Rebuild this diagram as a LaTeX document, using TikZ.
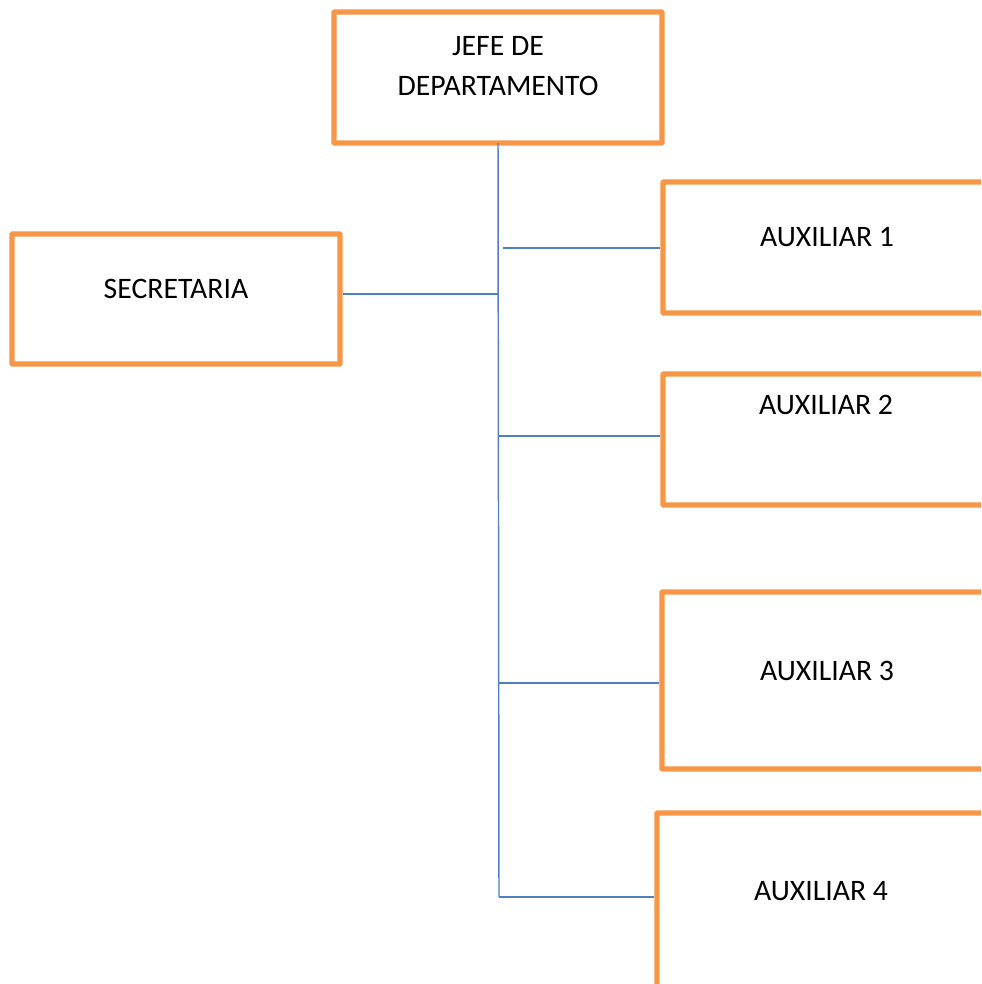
\documentclass[tikz,border=0pt]{standalone}
\usepackage{fontspec}
\setmainfont{Carlito}
\usepackage{tikz}
\usetikzlibrary{calc,fit}
\definecolor{boxorange}{HTML}{F79646}
\definecolor{linkblue}{HTML}{4F81BD}

\begin{document}
\begin{tikzpicture}[x=0.75pt,y=-0.75pt,
    box/.style={draw=boxorange,line width=4.1pt,inner sep=0pt,rounded corners=0.5pt},
    txt/.style={inner sep=0pt,anchor=base,font=\fontsize{22.3}{30}\selectfont},
    link/.style={draw=linkblue,line width=1.1pt}]
  \path[use as bounding box] (0,0) rectangle (981,984);
  \clip (0,0) rectangle (981,984);
  % boxes (the right ones run past the page edge)
  \node[box,fit={(334,12) (662,143)}] (jefe) {};
  \node[box,fit={(12,234) (340,364)}] (secretaria) {};
  \node[box,fit={(663,182) (1000,313)}] (aux1) {};
  \node[box,fit={(663,374) (1000,505)}] (aux2) {};
  \node[box,fit={(662,592) (1000,769)}] (aux3) {};
  \node[box,fit={(657,813) (1000,1010)}] (aux4) {};
  % labels
  \node[txt,anchor=center,align=center] (jefetxt) at (498,66.5) {JEFE DE\\DEPARTAMENTO};
  \node[txt] (sectxt) at (176,298) {SECRETARIA};
  \node[txt] (aux1txt) at (827,247) {AUXILIAR 1};
  \node[txt] (aux2txt) at (826,414) {AUXILIAR 2};
  \node[txt] (aux3txt) at (827,680) {AUXILIAR 3};
  \node[txt] (aux4txt) at (821,900) {AUXILIAR 4};
  % trunk and branches
  \coordinate (top) at (498,143);
  \coordinate (bottom) at (499,897);
  \coordinate (b1) at (503,248);
  \coordinate (bs) at (498,294);
  \coordinate (b2) at (498,436);
  \coordinate (b3) at (499,683);
  \draw[link] (top) -- (bottom);
  \draw[link] (b1) -- (b1 -| aux1.west);
  \draw[link] (bs) -- (bs -| secretaria.east);
  \draw[link] (b2) -- (b2 -| aux2.west);
  \draw[link] (b3) -- (b3 -| aux3.west);
  \draw[link] (bottom) -- (bottom -| aux4.west);
\end{tikzpicture}
\end{document}
